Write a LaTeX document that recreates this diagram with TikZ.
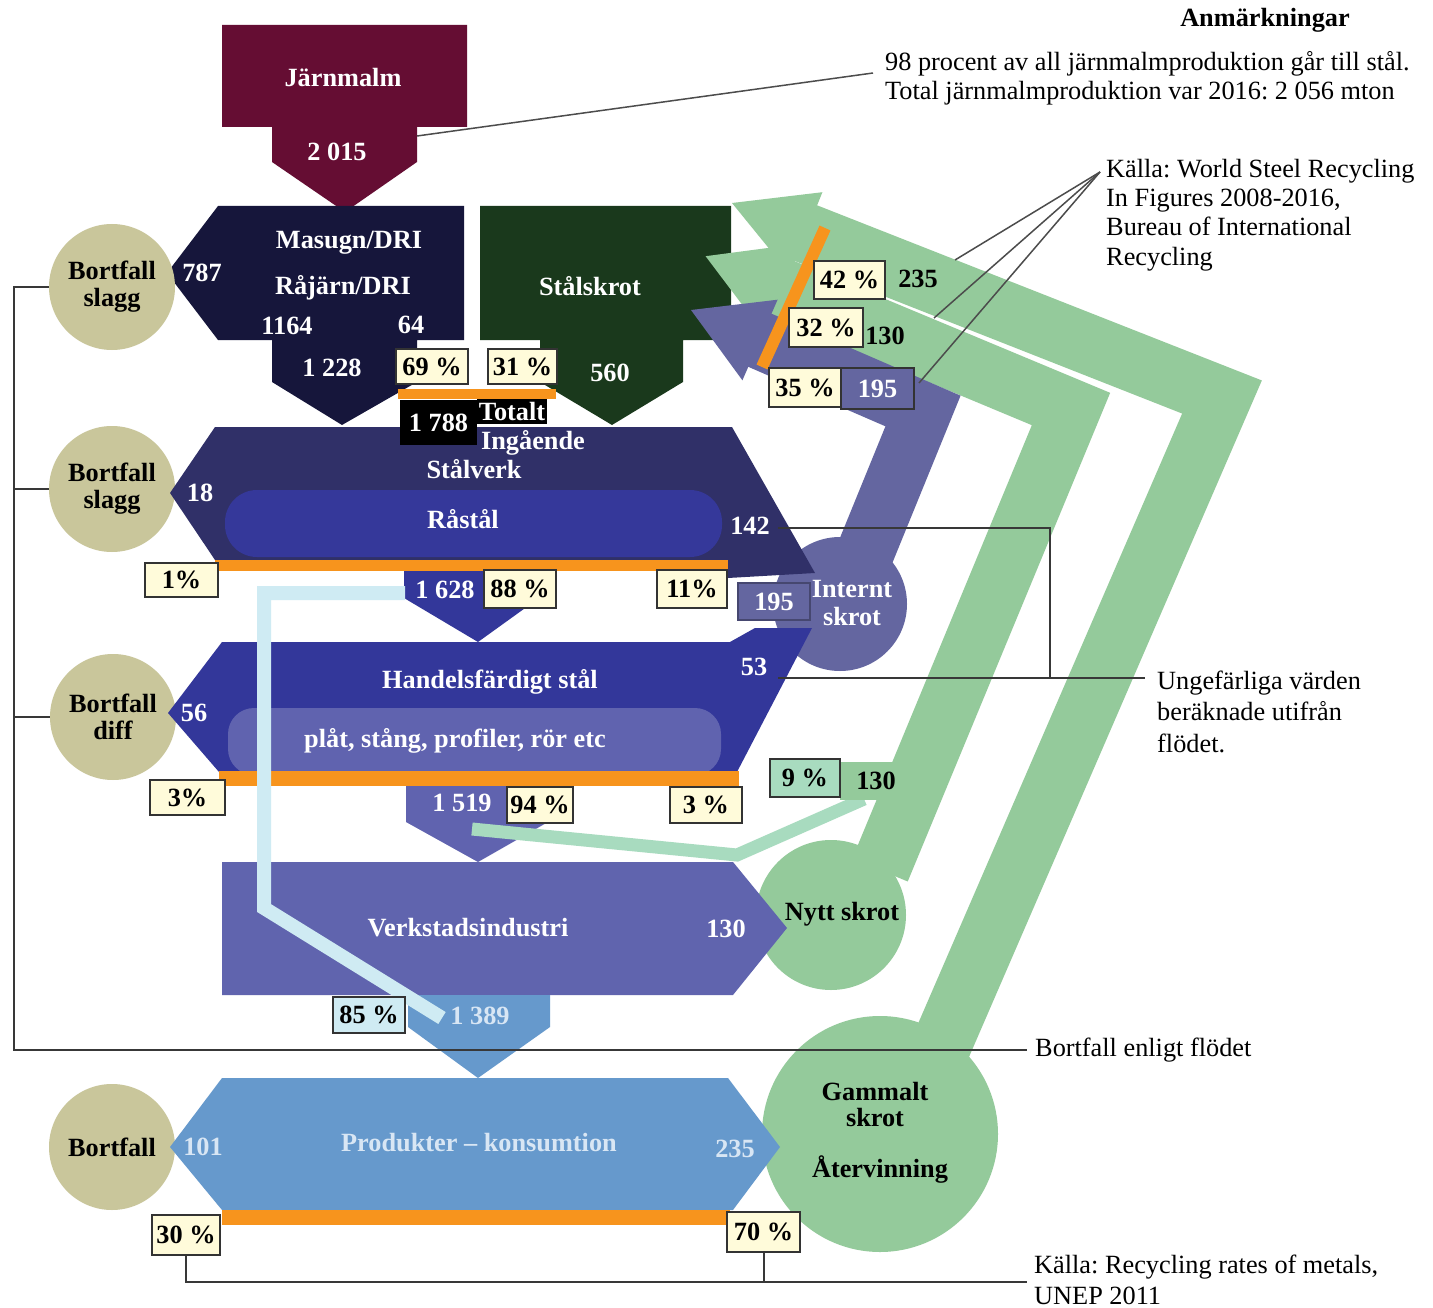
\documentclass[tikz,border=0pt]{standalone}
\usepackage{fontspec}
\setmainfont{Liberation Serif}
\frenchspacing
\definecolor{cMaroon}{HTML}{650D33}
\definecolor{cNavy}{HTML}{16163B}
\definecolor{cDkGreen}{HTML}{1A391C}
\definecolor{cStalverk}{HTML}{303068}
\definecolor{cRastal}{HTML}{35389A}
\definecolor{cHandel}{HTML}{33379A}
\definecolor{cPlat}{HTML}{6063AF}
\definecolor{cVerk}{HTML}{6064AE}
\definecolor{cPurple}{HTML}{6466A0}
\definecolor{cProd}{HTML}{6699CC}
\definecolor{cGreen}{HTML}{94CA9B}
\definecolor{cKhaki}{HTML}{C9C69B}
\definecolor{cOrange}{HTML}{F7941D}
\definecolor{cCream}{HTML}{FFFBDA}
\definecolor{cCyan}{HTML}{CFEBF3}
\definecolor{cLtGreen}{HTML}{A8DBBF}
\definecolor{cLtText}{HTML}{D8E6F4}
\newcommand\lblfont{\fontsize{26.3}{30}\selectfont\bfseries}
\newcommand\notefont{\fontsize{26.3}{30}\selectfont}
\begin{document}
\begin{tikzpicture}[x=1pt,y=-1pt,
  wt/.style={font=\lblfont, text=white, inner sep=0pt, align=center},
  bt/.style={wt, text=black},
  lt/.style={wt, text=cLtText},
  pbox/.style={draw=black!80, line width=2.5pt, fill=cCream, font=\lblfont, text=black, inner sep=0pt},
  note/.style={font=\notefont, inner sep=0pt, align=left, anchor=west},
  rule/.style={draw=black!78, line width=2pt},
  thinrule/.style={draw=black!70, line width=1.5pt},
  band/.style={line width=#1, line join=miter},
  disc/.style={circle, inner sep=0pt, minimum size=#1},
]
\useasboundingbox (0,0) rectangle (1433,1308);
\fill[white] (0,0) rectangle (1433,1308);

% ---------- top blocks ----------
\fill[cDkGreen] (480,206) -- (731,206) -- (731,340) -- (683,340) -- (683,382) -- (612,425) -- (540,382) -- (540,340) -- (480,340) -- cycle;
\fill[cMaroon] (222,25) -- (467,25) -- (467,127) -- (417,127) -- (417,162) -- (345,212) -- (272,162) -- (272,127) -- (222,127) -- cycle;
\fill[cNavy] (218,206) -- (464,206) -- (464,340) -- (417,340) -- (417,382) -- (342,425) -- (272,382) -- (272,340) -- (218,340) -- (167,273) -- cycle;

% ---------- recycling bands ----------
\draw[cGreen, band=60pt] (935,1060) -- (1222,397) -- (803,232);
\fill[cGreen] (732,203) -- (822.4,192.2) -- (789.6,273.8) -- cycle;
\draw[cGreen, band=60pt] (880,870) -- (1071,409) -- (769,283);
\fill[cGreen] (705.6,256.2) -- (788.2,245.3) -- (755.8,322.7) -- cycle;
\draw[cPurple, band=58pt] (850,590) -- (923,411) -- (757,339);
\fill[cPurple] (691,310) -- (777.6,299.7) -- (742.4,380.3) -- cycle;
\draw[cOrange, line width=12pt] (825,228) -- (762,367);

% ---------- circles ----------
\node[disc=150pt, fill=cGreen] (nytt) at (831,915) {};
\node[disc=236pt, fill=cGreen] (gammalt) at (880,1134) {};
\node[disc=134pt, fill=cPurple] (internt) at (840,604) {};
\node[disc=126pt, fill=cKhaki, font=\lblfont, align=center] (c1) at (112,287) {Bortfall\\[-3pt]slagg};
\node[disc=126pt, fill=cKhaki, font=\lblfont, align=center] (c2) at (112,489) {Bortfall\\[-3pt]slagg};
\node[disc=126pt, fill=cKhaki, font=\lblfont, align=center] (c3) at (113,717) {Bortfall\\[-3pt]diff};
\node[disc=126pt, fill=cKhaki, font=\lblfont] (c4) at (112,1147) {Bortfall};

% ---------- main chain ----------
\fill[cStalverk] (215,427) -- (732,427) -- (815,573) -- (728,578) -- (728,560) -- (215,560) -- (170,493) -- cycle;
\fill[cRastal, rounded corners=32pt] (225,490) rectangle (722,557);
\fill[cHandel] (404,560) -- (528,560) -- (528,606) -- (478,642) -- (404,598) -- cycle;
\fill[cHandel] (222,642) -- (730,642) -- (755,628) -- (812,628) -- (737,772) -- (219,772) -- (168,713) -- cycle;
\fill[cPlat, rounded corners=26pt] (228,708) rectangle (721,775);
\fill[cPlat] (406,786) -- (548,786) -- (548,822) -- (478,862) -- (406,822) -- cycle;
\fill[cVerk] (222,862) -- (733,862) -- (787,928) -- (733,995) -- (222,995) -- cycle;
\fill[cProd] (408,995) -- (550,995) -- (550,1027) -- (478,1078) -- (408,1027) -- cycle;
\fill[cProd] (222,1078) -- (728,1078) -- (780,1147) -- (733,1210) -- (222,1210) -- (170,1147) -- cycle;

% ---------- orange bars ----------
\fill[cOrange] (398,389) rectangle (556,399);
\fill[cOrange] (215,560) rectangle (728,571);
\fill[cOrange] (219,771) rectangle (739,786);
\fill[cOrange] (222,1210) rectangle (730,1225);

% ---------- thin flow lines ----------
\draw[cCyan, line width=14pt, line join=miter] (405,593) -- (264,593) -- (264,908) -- (442,1018);
\draw[cLtGreen, line width=13pt, line join=miter] (472,829) -- (737,855) -- (864,799);

% ---------- black boxes ----------
\node[fill=black, text=white, font=\lblfont, minimum width=77pt, minimum height=45pt, inner sep=0pt] (tot) at (438.5,422.5) {1 788};
\node[fill=black, text=white, font=\lblfont, minimum width=70pt, minimum height=25pt, inner sep=0pt] (totalt) at (512,411.5) {Totalt};

% ---------- percentage boxes ----------
\node[pbox, minimum width=72pt, minimum height=35pt] (b69) at (432,366.5) {69 \%};
\node[pbox, minimum width=69pt, minimum height=35pt] (b31) at (522.5,366.5) {31 \%};
\node[pbox, minimum width=71pt, minimum height=38pt] (b42) at (849.5,280) {42 \%};
\node[pbox, minimum width=74pt, minimum height=39pt] (b32) at (826,327.5) {32 \%};
\node[pbox, minimum width=72pt, minimum height=39pt] (b35) at (805,387.5) {35 \%};
\node[pbox, fill=cPurple, text=white, minimum width=73pt, minimum height=41pt] (b195t) at (877.5,388.5) {195};
\node[pbox, minimum width=73pt, minimum height=34pt] (b1) at (181.5,580) {1\%};
\node[pbox, minimum width=72pt, minimum height=38pt] (b88) at (520,589) {88 \%};
\node[pbox, minimum width=70pt, minimum height=38pt] (b11) at (692,589) {11\%};
\node[pbox, fill=cPurple, draw=cPurple!70!black, text=white, minimum width=72pt, minimum height=37pt] (b195m) at (774,601.5) {195};
\node[pbox, minimum width=75pt, minimum height=35pt] (b3l) at (187.5,797.5) {3\%};
\node[pbox, minimum width=66pt, minimum height=36pt] (b94) at (540,805) {94 \%};
\node[pbox, minimum width=72pt, minimum height=36pt] (b3r) at (706,805) {3 \%};
\node[fill=cGreen, font=\lblfont, minimum width=72pt, minimum height=38pt, inner sep=0pt] (t130c) at (876,781) {130};
\node[pbox, fill=cLtGreen, minimum width=70pt, minimum height=38pt] (b9) at (805,778) {9 \%};
\node[pbox, fill=cCyan, minimum width=72pt, minimum height=36pt] (b85) at (369,1015) {85 \%};
\node[pbox, minimum width=68pt, minimum height=40pt] (b30) at (186,1235) {30 \%};
\node[pbox, minimum width=73pt, minimum height=40pt] (b70) at (763.5,1232) {70 \%};

% ---------- labels ----------
\node[wt] (tJarn) at (343,78) {Järnmalm};
\node[wt] (t2015) at (337,152) {2 015};
\node[wt] (tMas) at (349,243) {Masugn/DRI};
\node[wt] (tRaj) at (343,288) {Råjärn/DRI};
\node[wt] (t787) at (202,273) {787};
\node[wt] (t1164) at (287,326) {1164};
\node[wt] (t64) at (411,325) {64};
\node[wt] (t1228) at (332,368) {1 228};
\node[wt] (tSkr) at (590,286) {Stålskrot};
\node[wt] (t560) at (610,373) {560};
\node[wt] (tIng) at (533,443) {Ingående};
\node[wt] (tSv) at (474,469) {Stålverk};
\node[wt] (tRa) at (463,519) {Råstål};
\node[wt] (t18) at (200,493) {18};
\node[wt] (t142) at (750,526) {142};
\node[wt] (t1628) at (445,590) {1 628};
\node[wt] (tInt) at (852,603) {Internt\\[-2pt]skrot};
\node[wt] (t53) at (754,667) {53};
\node[wt] (tHan) at (490,682) {Handelsfärdigt stål};
\node[wt] (t56) at (194,713) {56};
\node[wt] (tPlat) at (455,741) {plåt, stång, profiler, rör etc};
\node[wt] (t1519) at (462,803) {1 519};
\node[wt] (tVerk) at (468,928) {Verkstadsindustri};
\node[wt] (t130v) at (726,929) {130};
\node[lt] (t1389) at (480,1016) {1 389};
\node[lt] (tProd) at (479,1143) {Produkter – konsumtion};
\node[lt] (t101) at (203,1147) {101};
\node[lt] (t235p) at (735,1149) {235};
\node[bt] (t235) at (918,279) {235};
\node[bt] (t130a) at (885,336) {130};
\node[bt] (tNytt) at (842,914) {Nytt skrot};
\node[bt] (tGam) at (875,1104) {Gammalt\\[-4pt]skrot};
\node[bt] (tAter) at (880,1170) {Återvinning};

% ---------- notes ----------
\node[font=\lblfont, inner sep=0pt] (nAnm) at (1265,20) {Anmärkningar};
\node[note, font=\fontsize{26.3}{29}\selectfont] (n98) at (885,78.5) {98 procent av all järnmalmproduktion går till stål.\\Total järnmalmproduktion var 2016: 2 056 mton};
\node[note, font=\fontsize{26.3}{29.3}\selectfont] (nKalla) at (1106,215) {Källa: World Steel Recycling\\In Figures 2008-2016,\\Bureau of International\\Recycling};
\node[note, font=\fontsize{26.3}{31.5}\selectfont] (nUng) at (1157,711.5) {Ungefärliga värden\\beräknade utifrån\\flödet.};
\node[note] (nBort) at (1035,1050) {Bortfall enligt flödet};
\node[note, font=\fontsize{26.3}{31}\selectfont] (nUnep) at (1034,1279.5) {Källa: Recycling rates of metals,\\UNEP 2011};

% ---------- rules ----------
\coordinate (jEnd) at (417,136);
\coordinate (jNote) at (873,73);
\draw[thinrule] (jEnd) -- (jNote);
\coordinate (src) at (1100,172);
\coordinate (s1) at (955,260);
\coordinate (s2) at (934,318);
\coordinate (s3) at (919,383);
\draw[thinrule] (src) -- (s1);
\draw[thinrule] (src) -- (s2);
\draw[thinrule] (src) -- (s3);
\coordinate (u1) at (778,528);
\coordinate (u2) at (1050,528);
\coordinate (u3) at (778,678);
\coordinate (u4) at (1145,678);
\draw[rule] (u1) -- (u2) -- (u2 |- u3);
\draw[rule] (u3) -- (u4);
\coordinate (lTop) at (14,287);
\coordinate (lBot) at (14,1050);
\coordinate (lEnd) at (1027,1050);
\draw[rule] (c1.west) -- (lTop) -- (lBot) -- (lEnd);
\draw[rule] (c2.west) -- (c2.west -| lTop);
\draw[rule] (c3.west) -- (c3.west -| lTop);
\coordinate (bEnd) at (1027,1282);
\draw[rule] (b30.south) |- (bEnd);
\draw[rule] (b70.south) -- (b70.south |- bEnd);
\end{tikzpicture}
\end{document}
